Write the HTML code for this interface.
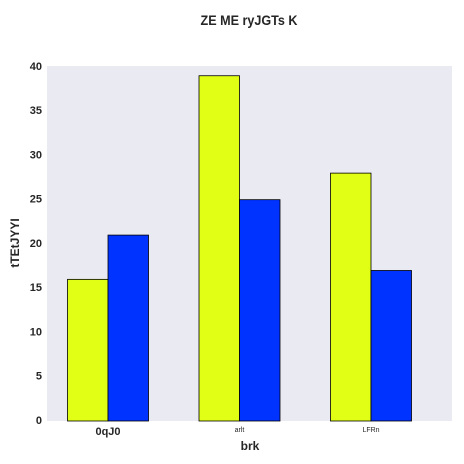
<!DOCTYPE html>
<html><head><meta charset="utf-8"><style>
html,body{margin:0;padding:0;background:#fff;}
svg{display:block;font-family:"Liberation Sans",sans-serif;}
</style></head><body>
<svg id="chart" width="464" height="464">
<text x="249" y="25" text-anchor="middle" font-size="14" font-weight="bold" fill="#262626" transform="translate(249 0) scale(0.9 1) translate(-249 0)">ZE ME ryJGTs K</text>
<rect x="47" y="66" width="405" height="355" fill="#eaeaf2"/>
<g id="yticks"></g>
<g id="bars"></g>
<g id="xticks"></g>
<text x="250" y="450" text-anchor="middle" font-size="12" font-weight="bold" fill="#262626">brk</text>
<text x="0" y="0" text-anchor="middle" font-size="12" font-weight="bold" fill="#262626" transform="translate(19 243) rotate(-90)">tTEtJYYI</text>
</svg>
<script>
const categories = ["0qJ0", "arlt", "LFRn"];
const seriesA = [16, 39, 28];
const seriesB = [21, 25, 17];
const yTicks = [0, 5, 10, 15, 20, 25, 30, 35, 40];
const catFontSizes = [11, 7, 7];
const catBold = [true, false, false];

const NS = "http://www.w3.org/2000/svg";
const x0 = 47, x1 = 452, yTop = 66, yBot = 421, yMax = 40.1;
const yScale = v => yBot - (v / yMax) * (yBot - yTop);
const step = 131.5, firstCenter = 108, barW = 40.5;
const xCenter = i => firstCenter + i * step;

const yt = document.getElementById('yticks');
yTicks.forEach(t => {
  const tx = document.createElementNS(NS, 'text');
  
  
  tx.setAttribute('x', 42); tx.setAttribute('y', yScale(t) + 3);
  tx.setAttribute('text-anchor', 'end'); tx.setAttribute('font-size', '11');
  tx.setAttribute('font-weight', 'bold'); tx.setAttribute('fill', '#262626');
  tx.textContent = t; yt.appendChild(tx);
});
const bg = document.getElementById('bars');
function bar(v, x, color, name) {
  const r = document.createElementNS(NS, 'rect');
  
  
  r.setAttribute('x', x); r.setAttribute('y', yScale(v));
  r.setAttribute('width', barW); r.setAttribute('height', yBot - yScale(v));
  r.setAttribute('fill', color); r.setAttribute('stroke', '#000'); r.setAttribute('stroke-width', '0.8');
  bg.appendChild(r);
}
const xt = document.getElementById('xticks');
categories.forEach((c, i) => {
  bar(seriesA[i], xCenter(i) - barW, '#e1ff14', 'bar-yellow-' + c);
  bar(seriesB[i], xCenter(i), '#0033ff', 'bar-blue-' + c);
  const tx = document.createElementNS(NS, 'text');
  
  
  tx.setAttribute('x', xCenter(i)); tx.setAttribute('y', catBold[i] ? 435 : 432);
  tx.setAttribute('text-anchor', 'middle'); tx.setAttribute('font-size', catFontSizes[i]);
  if (catBold[i]) tx.setAttribute('font-weight', 'bold');
  tx.setAttribute('fill', '#262626');
  tx.textContent = c; xt.appendChild(tx);
});
</script>
</body></html>
